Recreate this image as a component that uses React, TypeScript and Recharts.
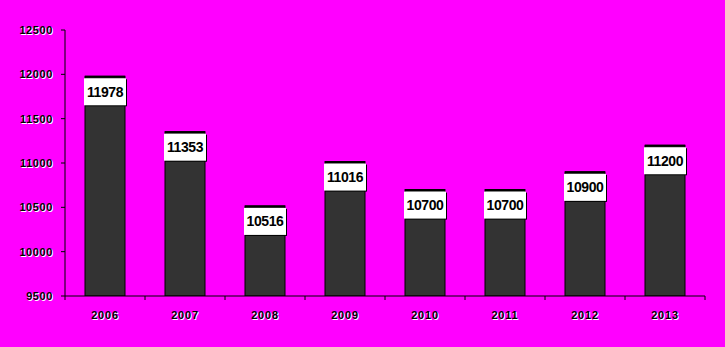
import { BarChart, Bar, XAxis, YAxis, LabelList } from "recharts";

const years = ["2006", "2007", "2008", "2009", "2010", "2011", "2012", "2013"];
const values = [11978, 11353, 10516, 11016, 10700, 10700, 10900, 11200];
const yTicks = [9500, 10000, 10500, 11000, 11500, 12000, 12500];

const data = years.map((year, i) => ({ year, value: values[i] }));

const FONT = "Arial, 'Liberation Sans', sans-serif";

const YTick = (props: any) => {
  const { x, y, payload } = props;
  return (
    <g>
      <line x1={x - 4} x2={x} y1={y} y2={y} stroke="#000" />
      <text x={x - 11} y={y + 5} textAnchor="end" fontFamily={FONT} fontSize={11} fontWeight="bold" letterSpacing={0.6} fill="#fff">
        {payload.value}
      </text>
      <text x={x - 12} y={y + 4} textAnchor="end" fontFamily={FONT} fontSize={11} fontWeight="bold" letterSpacing={0.6} fill="#000">
        {payload.value}
      </text>
    </g>
  );
};

const XTick = (props: any) => {
  const { x, y, payload, index } = props;
  const half = 40;
  return (
    <g>
      <line x1={x - half} x2={x - half} y1={y} y2={y + 4} stroke="#000" />
      {index === years.length - 1 && <line x1={x + half} x2={x + half} y1={y} y2={y + 4} stroke="#000" />}
      <text x={x + 1} y={y + 24} textAnchor="middle" fontFamily={FONT} fontSize={11} fontWeight="bold" letterSpacing={0.8} fill="#fff">
        {payload.value}
      </text>
      <text x={x} y={y + 23} textAnchor="middle" fontFamily={FONT} fontSize={11} fontWeight="bold" letterSpacing={0.8} fill="#000">
        {payload.value}
      </text>
    </g>
  );
};

const BoxLabel = (props: any) => {
  const { x, y, width, value } = props;
  const bx = x - 1;
  const by = y + 2;
  const bw = width + 2;
  const bh = 27;
  return (
    <g>
      <rect x={bx + 1} y={by + 1} width={bw} height={bh} fill="#000" />
      <rect x={bx} y={by} width={bw} height={bh} fill="#fff" />
      <text x={x + width / 2} y={by + bh / 2 + 5} textAnchor="middle" fontFamily={FONT} fontSize={14} fontWeight="bold" letterSpacing={-0.4} fill="#000">
        {value}
      </text>
    </g>
  );
};

const BarShape = (props: any) => {
  const { x, y, width, height } = props;
  return (
    <g>
      <rect x={x} y={y} width={width} height={height} fill="#333333" stroke="#000" strokeWidth={1} />
      <line x1={x} x2={x + width} y1={y + 0.5} y2={y + 0.5} stroke="#000" strokeWidth={2} />
    </g>
  );
};

const App = () => {
  return (
    <div style={{ position: "absolute", left: 0, top: 0, width: 725, height: 347, background: "#ff00ff" }}>
      <BarChart
        width={725}
        height={347}
        data={data}
        margin={{ top: 30, right: 20, left: 0, bottom: 0 }}
        barCategoryGap="25%"
      >
        <XAxis
          dataKey="year"
          height={51}
          stroke="#000"
          tickLine={false}
          tickSize={0}
          tickMargin={0}
          tick={<XTick />}
          interval={0}
        />
        <YAxis
          width={65}
          domain={[9500, 12500]}
          ticks={yTicks}
          stroke="#000"
          tickLine={false}
          tickSize={0}
          tickMargin={0}
          tick={<YTick />}
          allowDataOverflow
        />
        <Bar dataKey="value" shape={<BarShape />} isAnimationActive={false}>
          <LabelList dataKey="value" content={<BoxLabel />} />
        </Bar>
      </BarChart>
    </div>
  );
};

export default App;
